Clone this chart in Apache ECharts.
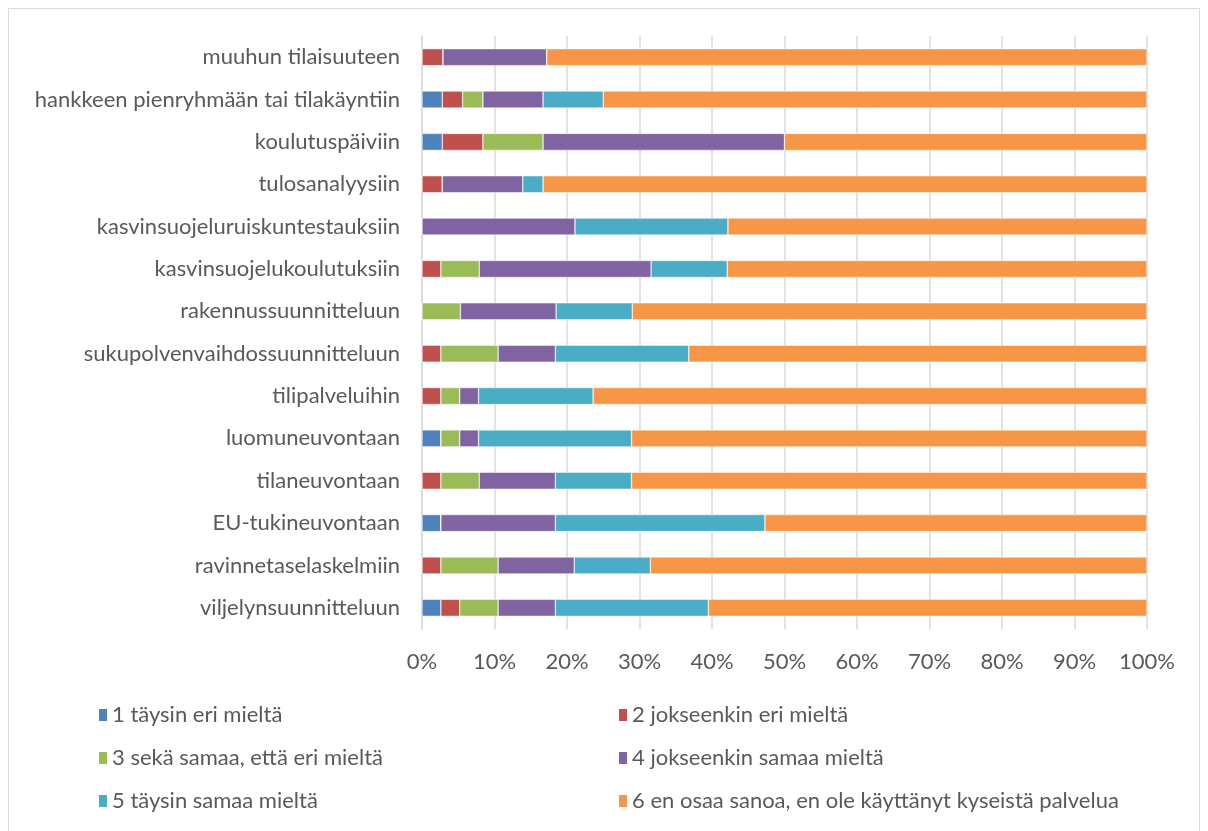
<!DOCTYPE html>
<html>
<head>
<meta charset="utf-8">
<script src="https://cdn.jsdelivr.net/npm/echarts@6/dist/echarts.min.js"></script>
<style>
html, body { margin: 0; padding: 0; background: #fff; }
#chart { width: 1208px; height: 831px; }
</style>
</head>
<body>
<div id="chart"></div>
<script>
// categories bottom -> top (category axis starts from bottom)
var categories = [
	"viljelynsuunnitteluun",
	"ravinnetaselaskelmiin",
	"EU-tukineuvontaan",
	"tilaneuvontaan",
	"luomuneuvontaan",
	"tilipalveluihin",
	"sukupolvenvaihdossuunnitteluun",
	"rakennussuunnitteluun",
	"kasvinsuojelukoulutuksiin",
	"kasvinsuojeluruiskuntestauksiin",
	"tulosanalyysiin",
	"koulutuspäiviin",
	"hankkeen pienryhmään tai tilakäyntiin",
	"muuhun tilaisuuteen"
];
var seriesNames = [
	"1 täysin eri mieltä",
	"2 jokseenkin eri mieltä",
	"3 sekä samaa, että eri mieltä",
	"4 jokseenkin samaa mieltä",
	"5 täysin samaa mieltä",
	"6 en osaa sanoa, en ole käyttänyt kyseistä palvelua"
];
var colors = ["#4f81bd", "#c0504d", "#9bbb59", "#8064a2", "#4bacc6", "#f79646"];

// percentages, same order as categories
var s1 = [2.6, 0, 2.6, 0, 2.6, 0, 0, 0, 0, 0, 0, 2.8, 2.8, 0];
var s2 = [2.6, 2.6, 0, 2.6, 0, 2.6, 2.6, 0, 2.6, 0, 2.8, 5.6, 2.8, 2.9];
var s3 = [5.3, 7.9, 0, 5.3, 2.6, 2.6, 7.9, 5.3, 5.3, 0, 0, 8.3, 2.8, 0];
var s4 = [7.9, 10.5, 15.8, 10.5, 2.6, 2.6, 7.9, 13.2, 23.7, 21.1, 11.1, 33.3, 8.3, 14.3];
var s5 = [21.1, 10.5, 28.9, 10.5, 21.1, 15.8, 18.4, 10.5, 10.5, 21.1, 2.8, 0, 8.3, 0];
var s6 = [60.5, 68.5, 52.7, 71.1, 71.1, 76.4, 63.2, 71.0, 57.9, 57.8, 83.3, 50.0, 75.0, 82.8];

var seriesData = [s1, s2, s3, s4, s5, s6];

var chart = echarts.init(document.getElementById("chart"));
var textColor = "#595959";
var fontFamily = "Lato, sans-serif";
var fontSize = 22;

var series = seriesNames.map(function(name, idx){
	return {
		name: name,
		type: "bar",
		stack: "total",
		barWidth: 17,
		itemStyle: { color: colors[idx], borderColor: "#ffffff", borderWidth: 0.5 },
		data: seriesData[idx]
	};
});

function legendCfg(names, left){
	return {
		data: names,
		orient: "vertical",
		left: left,
		top: 699,
		itemGap: 21,
		itemWidth: 10,
		itemHeight: 14,
		icon: "rect",
		textStyle: { color: textColor, fontSize: fontSize, lineHeight: 22, fontFamily: fontFamily, padding: [0, 0, 0, -1] }
	};
}

chart.setOption({
	animation: false,
	color: colors,
	textStyle: { fontFamily: fontFamily },
	graphic: [{
		type: "rect",
		shape: { x: 8.5, y: 8.5, width: 1191, height: 830 },
		style: { fill: "none", stroke: "#d9d9d9", lineWidth: 1 },
		silent: true
	}],
	grid: { left: 422, right: 61, top: 36, bottom: 202 },
	xAxis: {
		type: "value",
		min: 0,
		max: 100,
		interval: 10,
		axisLabel: {
			formatter: "{value}%",
			color: textColor,
			fontSize: fontSize,
			margin: 22,
			fontFamily: fontFamily
		},
		axisLine: { show: false },
		axisTick: { show: false },
		splitLine: { lineStyle: { color: "#d9d9d9", width: 1.5 } }
	},
	yAxis: {
		type: "category",
		data: categories,
		axisLabel: {
			color: textColor,
			fontSize: fontSize,
			margin: 22,
			fontFamily: fontFamily
		},
		axisLine: { show: true, lineStyle: { color: "#d9d9d9", width: 1.5 } },
		axisTick: { show: false }
	},
	legend: [
		legendCfg([seriesNames[0], seriesNames[2], seriesNames[4]], 92),
		legendCfg([seriesNames[1], seriesNames[3], seriesNames[5]], 612)
	],
	series: series
});
</script>
</body>
</html>
